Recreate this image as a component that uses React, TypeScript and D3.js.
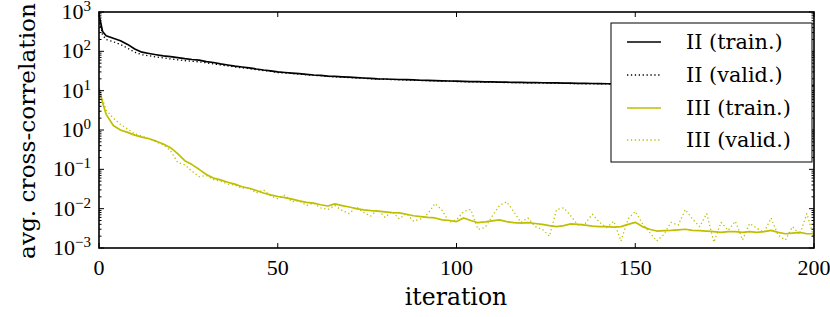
import * as d3 from "d3";

// iterations: 0, 1, then every 2nd up to 200
const iters: number[] = [0, 1, ...d3.range(2, 201, 2)];

const iiTrain = [
  850, 320,
  250, 215, 185, 150, 115, 95, 88, 82, 77, 73,
  69, 65, 62, 60, 55, 52, 48, 45, 42, 40,
  38, 35.5, 33.5, 32, 30, 29, 28, 27, 26, 25,
  24.5, 23.5, 23, 22.5, 22, 21.5, 21, 20.5, 20, 19.8,
  19.5, 19.2, 19, 18.7, 18.4, 18.2, 18, 17.8, 17.6, 17.4,
  17.2, 17, 16.9, 16.8, 16.7, 16.5, 16.4, 16.3, 16.2, 16.1,
  16, 15.9, 15.8, 15.7, 15.6, 15.5, 15.4, 15.3, 15.2, 15.1,
  15, 15, 14.9, 14.8, 14.8, 14.7, 14.6, 14.6, 14.5, 14.5,
  14.4, 14.4, 14.3, 14.3, 14.2, 14.2, 14.1, 14.1, 14, 14,
  13.9, 13.9, 13.8, 13.8, 13.8, 13.7, 13.7, 13.6, 13.6, 13.5,
];

const iiValid = [
  700, 260,
  200, 175, 150, 120, 95, 82, 77, 72, 68, 64,
  61, 58, 56, 54, 51, 48, 45, 42.5, 40, 38,
  36.5, 34, 32.5, 31, 29, 28, 27.2, 26.3, 25.4, 24.5,
  24, 23, 22.5, 22, 21.5, 21, 20.6, 20.1, 19.7, 19.4,
  19.1, 18.9, 18.6, 18.4, 18.1, 17.9, 17.7, 17.5, 17.3, 17.1,
  16.9, 16.8, 16.6, 16.5, 16.4, 16.2, 16.1, 16, 15.9, 15.8,
  15.7, 15.6, 15.5, 15.4, 15.3, 15.2, 15.1, 15, 14.9, 14.8,
  14.8, 14.7, 14.6, 14.5, 14.5, 14.4, 14.4, 14.3, 14.3, 14.2,
  14.2, 14.1, 14.1, 14, 14, 13.9, 13.9, 13.8, 13.8, 13.7,
  13.7, 13.6, 13.6, 13.5, 13.5, 13.5, 13.4, 13.4, 13.3, 13.3,
];

const iiiTrain = [
  11.7, 5,
  2.5, 1.3, 1.0, 0.87, 0.74, 0.66, 0.6, 0.52, 0.44, 0.355,
  0.25, 0.166, 0.132, 0.1, 0.074, 0.06, 0.054, 0.047, 0.042, 0.036,
  0.033, 0.029, 0.025, 0.0224, 0.0204, 0.019, 0.0174, 0.0158, 0.0145, 0.0138,
  0.0126, 0.0117, 0.0132, 0.012, 0.011, 0.01, 0.0093, 0.0089, 0.0087, 0.0083,
  0.0079, 0.0078, 0.0072, 0.0066, 0.0063, 0.006, 0.0058, 0.0052, 0.005, 0.0047,
  0.0058, 0.005, 0.0044, 0.0046, 0.0049, 0.0052, 0.0047, 0.0044, 0.0043, 0.0044,
  0.0042, 0.004, 0.0037, 0.0035, 0.0037, 0.0041, 0.004, 0.0038, 0.0036, 0.0035,
  0.0035, 0.0034, 0.0035, 0.004, 0.0045, 0.0035, 0.003, 0.0027, 0.00275, 0.0028,
  0.0029, 0.003, 0.0028, 0.00275, 0.0027, 0.0026, 0.0025, 0.0026, 0.0026, 0.0025,
  0.0026, 0.0025, 0.0026, 0.0028, 0.0025, 0.0023, 0.0024, 0.0025, 0.0023, 0.0023,
];

const iiiValid = [
  12, 6,
  3.2, 2.0, 1.4, 1.05, 0.8, 0.7, 0.6, 0.5, 0.42, 0.3,
  0.15, 0.13, 0.09, 0.065, 0.07, 0.055, 0.05, 0.042, 0.04, 0.033,
  0.034, 0.025, 0.03, 0.021, 0.018, 0.022, 0.015, 0.016, 0.012, 0.014,
  0.0105, 0.0095, 0.012, 0.009, 0.0075, 0.011, 0.008, 0.0065, 0.0095, 0.006,
  0.0085, 0.0055, 0.0075, 0.0048, 0.0055, 0.0075, 0.0135, 0.009, 0.0045, 0.0052,
  0.0085, 0.0095, 0.003, 0.0033, 0.0065, 0.012, 0.015, 0.0085, 0.0045, 0.0058,
  0.0035, 0.003, 0.002, 0.0095, 0.0105, 0.0065, 0.0038, 0.0042, 0.0072, 0.0045,
  0.0033, 0.0048, 0.0015, 0.0055, 0.0085, 0.0042, 0.0025, 0.0015, 0.0022, 0.0045,
  0.0038, 0.0095, 0.0055, 0.0035, 0.0075, 0.0014, 0.0045, 0.0028, 0.0048, 0.0016,
  0.0042, 0.0032, 0.0025, 0.0058, 0.0021, 0.0016, 0.0035, 0.0022, 0.0075, 0.0018,
];

const xTicks = [0, 50, 100, 150, 200];
const yExps = [-3, -2, -1, 0, 1, 2, 3];

const series = [
  { label: "II (train.)", values: iiTrain, color: "#000000", dotted: false },
  { label: "II (valid.)", values: iiValid, color: "#000000", dotted: true },
  { label: "III (train.)", values: iiiTrain, color: "#bfbf00", dotted: false },
  { label: "III (valid.)", values: iiiValid, color: "#bfbf00", dotted: true },
];

const W = 830;
const H = 317;
const left = 99, right = 814, top = 12, bottom = 248;

const digitFont = "'Liberation Serif', serif";
const textFont = "'DejaVu Serif', serif";

export default function App() {
  const x = d3.scaleLinear().domain([0, 200]).range([left, right]);
  const y = d3.scaleLog().domain([1e-3, 1e3]).range([bottom, top]);

  const line = d3
    .line<[number, number]>()
    .x((d) => x(d[0]))
    .y((d) => y(d[1]));

  const minor: number[] = [];
  yExps.slice(0, -1).forEach((e) => {
    for (let m = 2; m <= 9; m++) minor.push(m * Math.pow(10, e));
  });

  const lg = { x: 611, y: 23, w: 201, h: 139 };
  const rowY = [42, 75, 108, 140];

  return (
    <svg
      width={W}
      height={H}
      style={{ position: "absolute", left: 0, top: 0, background: "#fff" }}
    >
      <defs>
        <clipPath id="plot">
          <rect x={left} y={top} width={right - left} height={bottom - top} />
        </clipPath>
      </defs>

      <g clipPath="url(#plot)">
        {series.map((s) => (
          <path
            key={s.label}
            d={line(iters.map((it, i) => [it, s.values[i]] as [number, number])) ?? ""}
            fill="none"
            stroke={s.color}
            strokeWidth={s.dotted ? 1.3 : 1.7}
            strokeDasharray={s.dotted ? "1.3,2.6" : undefined}
            strokeLinejoin="round"
          />
        ))}
      </g>

      {/* ticks, inward on all four sides */}
      <g stroke="#000" strokeWidth={1}>
        {xTicks.map((t) => (
          <g key={"x" + t}>
            <line x1={x(t)} x2={x(t)} y1={bottom} y2={bottom - 5} />
            <line x1={x(t)} x2={x(t)} y1={top} y2={top + 5} />
          </g>
        ))}
        {yExps.map((e) => (
          <g key={"y" + e}>
            <line x1={left} x2={left + 5} y1={y(Math.pow(10, e))} y2={y(Math.pow(10, e))} />
            <line x1={right} x2={right - 5} y1={y(Math.pow(10, e))} y2={y(Math.pow(10, e))} />
          </g>
        ))}
        {minor.map((v, i) => (
          <g key={"m" + i}>
            <line x1={left} x2={left + 2.5} y1={y(v)} y2={y(v)} />
            <line x1={right} x2={right - 2.5} y1={y(v)} y2={y(v)} />
          </g>
        ))}
      </g>

      <rect
        x={left}
        y={top}
        width={right - left}
        height={bottom - top}
        fill="none"
        stroke="#000"
        strokeWidth={1.6}
      />

      {/* tick labels */}
      <g fontFamily={digitFont} fill="#000">
        {xTicks.map((t) => (
          <text key={"xl" + t} x={x(t)} y={275} fontSize={22} textAnchor="middle">
            {t}
          </text>
        ))}
        {yExps.map((e) => (
          <text key={"yl" + e} x={91} y={y(Math.pow(10, e)) + 7} fontSize={22} textAnchor="end">
            10
            <tspan fontSize={15} dy={-8}>
              {e < 0 ? "\u2212" + Math.abs(e) : e}
            </tspan>
          </text>
        ))}
      </g>

      {/* axis labels */}
      <text
        x={456}
        y={305}
        fontFamily={textFont}
        fontSize={23.5}
        textAnchor="middle"
      >
        iteration
      </text>
      <text
        transform={`translate(35,${(top + bottom) / 2 + 1}) rotate(-90)`}
        fontFamily={textFont}
        fontSize={23.2}
        textAnchor="middle"
      >
        avg. cross-correlation
      </text>

      {/* legend */}
      <rect x={lg.x} y={lg.y} width={lg.w} height={lg.h} fill="#fff" stroke="#000" strokeWidth={1} />
      {series.map((s, i) => (
        <g key={"lg" + i}>
          <line
            x1={627}
            x2={661}
            y1={rowY[i]}
            y2={rowY[i]}
            stroke={s.color}
            strokeWidth={s.dotted ? 1.3 : 1.7}
            strokeDasharray={s.dotted ? "1.3,2.6" : undefined}
          />
          <text x={686} y={rowY[i] + 7} fontFamily={textFont} fontSize={20.8}>
            {s.label}
          </text>
        </g>
      ))}
    </svg>
  );
}
